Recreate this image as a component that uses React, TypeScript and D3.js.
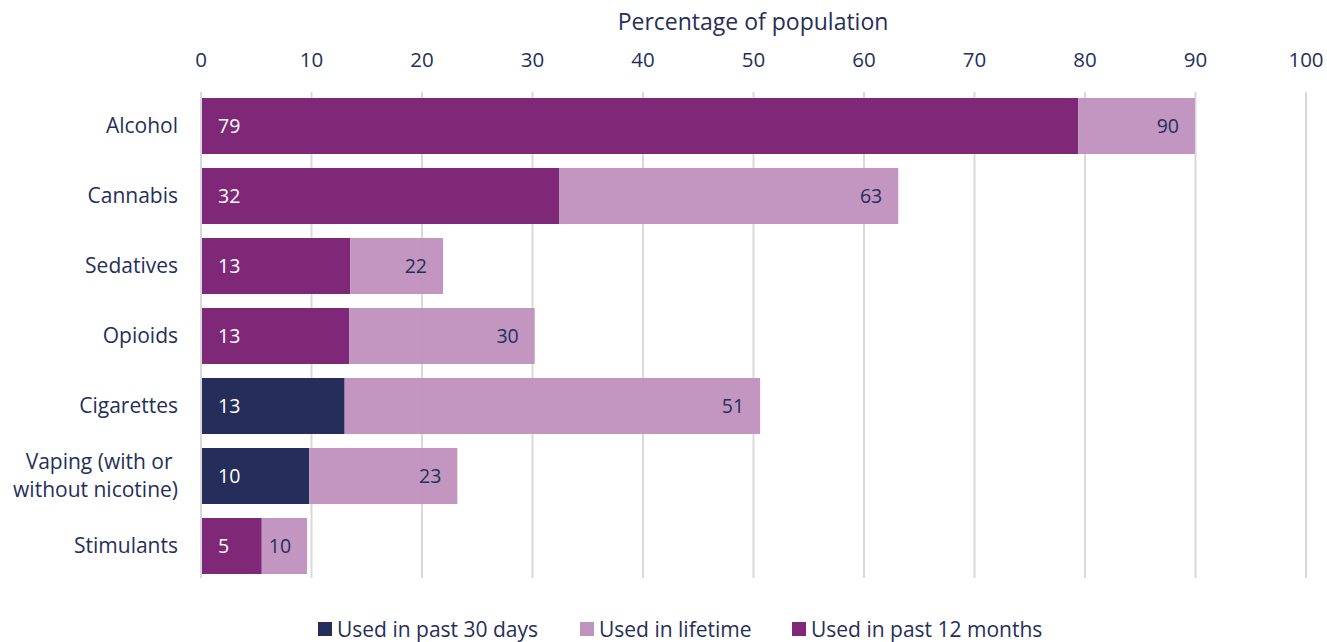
import React from "react";
import * as d3 from "d3";

const categories = ["Alcohol", "Cannabis", "Sedatives", "Opioids", "Cigarettes", "Vaping (with or \nwithout nicotine)", "Stimulants"];
const lifetime = [90, 63, 22, 30, 51, 23, 10];
const lifetimeExact = [89.95, 63.1, 21.9, 30.2, 50.6, 23.2, 9.6];
const recent = [79, 32, 13, 13, 13, 10, 5];
const recentExact = [79.4, 32.4, 13.5, 13.4, 13.0, 9.8, 5.5];
const recentType = ["12m", "12m", "12m", "12m", "30d", "30d", "12m"];
const ticks = [0, 10, 20, 30, 40, 50, 60, 70, 80, 90, 100];
const legendItems = [
  { key: "30d", label: "Used in past 30 days" },
  { key: "life", label: "Used in lifetime" },
  { key: "12m", label: "Used in past 12 months" },
];

const colors: Record<string, string> = {
  "30d": "#252d5a",
  "12m": "#7f2878",
  life: "#c093bf",
};
const textColor = "#25305a";
const font = "'Open Sans', Lato, sans-serif";

export default function App() {
  const W = 1327, H = 642;
  const x = d3.scaleLinear().domain([0, 100]).range([201, 1306]);
  const y = d3.scaleBand().domain(categories).range([91, 581]).paddingInner(0.2).paddingOuter(0.1);
  const bh = y.bandwidth();
  return (
    <svg width={W} height={H} style={{ position: "absolute", left: 0, top: 0, background: "#fff" }} fontFamily={font}>
      <text x={753} y={30} textAnchor="middle" fontSize={23} fill={textColor}>Percentage of population</text>
      {ticks.map((t) => (
        <g key={t}>
          <line x1={x(t)} x2={x(t)} y1={92} y2={578} stroke="#d9d9d9" strokeWidth={2} />
          <text x={x(t)} y={67} textAnchor="middle" fontSize={20.5} fill={textColor}>{t}</text>
        </g>
      ))}
      {categories.map((c, i) => {
        const y0 = y(c)!;
        const cy = y0 + bh / 2;
        const lines = c.split("\n");
        return (
          <g key={c}>
            <rect x={x(0) + 1} y={y0} width={x(recentExact[i]) - x(0) - 1} height={bh} fill={colors[recentType[i]]} />
            <rect x={x(recentExact[i])} y={y0} width={x(lifetimeExact[i]) - x(recentExact[i])} height={bh} fill={colors.life} opacity={0.97} />
            <text x={x(0) + 17} y={cy + 7} fontSize={19.5} fill="#fff">{recent[i]}</text>
            <text x={x(lifetimeExact[i]) - 16} y={cy + 7} fontSize={19.5} fill={textColor} textAnchor="end">{lifetime[i]}</text>
            {lines.map((l, k) => (
              <text key={k} x={178} y={cy + 7 + (k - (lines.length - 1) / 2) * 28} textAnchor="end" fontSize={21} fill={textColor} style={{ whiteSpace: "pre" }}>{l}</text>
            ))}
          </g>
        );
      })}
      {legendItems.map((it, i) => {
        const lx = [318, 580, 792][i];
        return (
          <g key={it.key}>
            <rect x={lx} y={622} width={14} height={14} fill={colors[it.key]} />
            <text x={lx + 19} y={637} fontSize={21} fill={textColor}>{it.label}</text>
          </g>
        );
      })}
    </svg>
  );
}
